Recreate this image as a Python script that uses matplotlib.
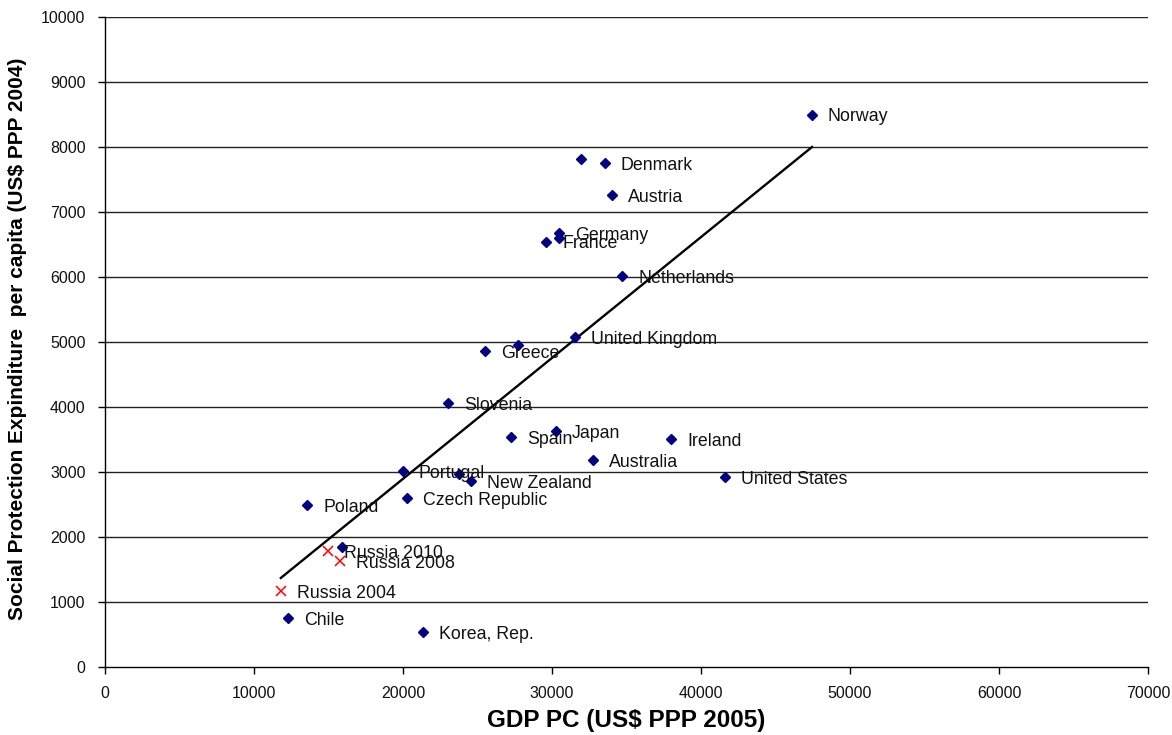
import matplotlib
matplotlib.use("Agg")
import matplotlib.pyplot as plt

# ---- data ----
countries = ["Norway", "", "Denmark", "Austria", "Germany", "", "France",
             "Netherlands", "United Kingdom", "", "Greece", "Slovenia", "Spain",
             "Japan", "Ireland", "Australia", "United States", "Portugal", "",
             "New Zealand", "Czech Republic", "Poland", "", "Chile", "Korea, Rep."]
gdp_pc = [47450, 31950, 33550, 34050, 30450, 30470, 29600,
          34700, 31540, 27720, 25500, 23020, 27250,
          30270, 37990, 32750, 41610, 20000, 23760,
          24560, 20270, 13560, 15900, 12300, 21340]
social_exp = [8500, 7815, 7750, 7260, 6670, 6600, 6540,
              6015, 5077, 4954, 4862, 4062, 3538,
              3631, 3508, 3185, 2923, 3015, 2970,
              2862, 2600, 2492, 1846, 754, 538]

russia_labels = ["Russia 2010", "Russia 2008", "Russia 2004"]
russia_gdp = [14970, 15770, 11810]
russia_exp = [1785, 1630, 1170]

trend_x = [11800, 47450]
trend_y = [1370, 8000]

x_ticks = [0, 10000, 20000, 30000, 40000, 50000, 60000, 70000]
y_ticks = [0, 1000, 2000, 3000, 4000, 5000, 6000, 7000, 8000, 9000, 10000]

# ---- figure ----
W, H = 1172, 735
fig = plt.figure(figsize=(W / 100, H / 100), dpi=100)
ax = fig.add_axes([105 / W, (H - 667) / H, (1148 - 105) / W, (667 - 17) / H])

ax.set_xlim(0, 70000)
ax.set_ylim(0, 10000)
ax.set_xticks(x_ticks)
ax.set_yticks(y_ticks)

for y in y_ticks[1:]:
    ax.axhline(y, color="#222222", lw=1.0, zorder=1)

ax.plot(trend_x, trend_y, color="black", lw=1.7, zorder=2)

ax.plot(gdp_pc, social_exp, linestyle="none", marker="D", ms=5.5,
        color="#000080", zorder=3)
ax.plot(russia_gdp, russia_exp, linestyle="none", marker="x", ms=7,
        mew=1.1, color="red", zorder=3)

font = ["Liberation Sans", "DejaVu Sans"]
for name, x, y in list(zip(countries, gdp_pc, social_exp)) + \
        list(zip(russia_labels, russia_gdp, russia_exp)):
    if name:
        ax.annotate(name, (x, y), xytext=(11.5, -1.5), textcoords="offset points",
                    ha="left", va="center", fontsize=12.8, color="#111111",
                    family=font, zorder=4)

for s in ["top", "right"]:
    ax.spines[s].set_visible(False)
for s in ["left", "bottom"]:
    ax.spines[s].set_color("black")
    ax.spines[s].set_linewidth(1.0)

ax.tick_params(axis="both", direction="out", length=5, width=1, color="black")
ax.tick_params(axis="y", pad=9)
ax.tick_params(axis="x", pad=9)

for t in ax.get_yticklabels():
    t.set_fontsize(11.5)
    t.set_family(font)
    t.set_color("#111111")
for t in ax.get_xticklabels():
    t.set_fontsize(11.5)
    t.set_family(font)
    t.set_color("#111111")

ax.set_xlabel("GDP PC (US$ PPP 2005)", fontsize=17.5, fontweight="bold",
              family=font)
ax.xaxis.label.set_va("center")
ax.xaxis.set_label_coords(0.5, (667 - 721) / 650)

ax.set_ylabel("Social Protection Expinditure  per capita (US$ PPP 2004)",
              fontsize=15, fontweight="bold", family=font)
ax.yaxis.label.set_va("center")
ax.yaxis.set_label_coords((18 - 105) / 1043, (667 - 338.5) / 650)

fig.savefig("out.png", dpi=100)
